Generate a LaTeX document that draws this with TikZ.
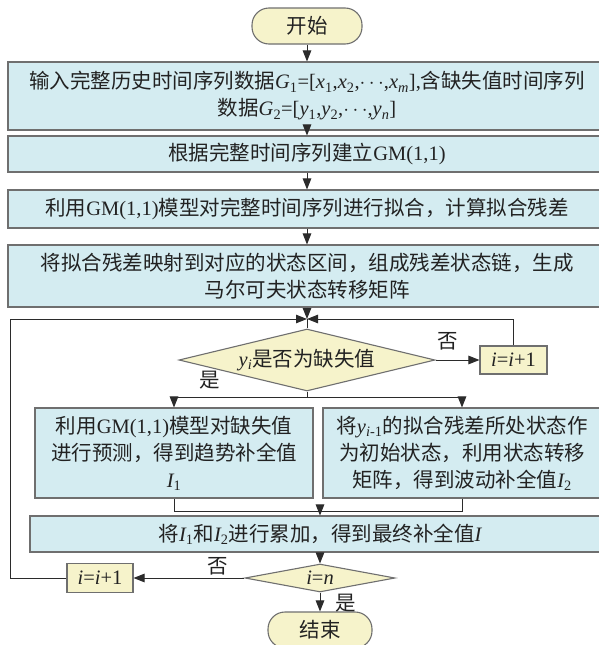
\documentclass[tikz,border=0pt]{standalone}
\usepackage{fontspec}
\setmainfont{Noto Sans CJK SC}
\newfontfamily\lat{Liberation Serif}
\usetikzlibrary{shapes.geometric,arrows.meta}
\definecolor{boxblue}{HTML}{D4ECF1}
\definecolor{boxyellow}{HTML}{F6F3CB}
\definecolor{bordergray}{HTML}{6F6F6F}
\definecolor{linegray}{HTML}{2B2B2B}
\definecolor{txtgray}{HTML}{222222}
\newcommand{\vi}[1]{{\lat\itshape #1}}
\newcommand{\sbs}[1]{\textsubscript{\lat #1}}
\newcommand{\la}[1]{{\lat #1}}
\begin{document}
\begin{tikzpicture}[x=1pt,y=-1pt,
  every node/.style={font=\fontsize{20.5}{27}\selectfont, text=txtgray},
  procbox/.style={draw=bordergray, fill=boxblue, line width=1.1pt, inner sep=0pt, align=center},
  termbox/.style={draw=bordergray, fill=boxyellow, rounded corners=17pt, line width=1.1pt, inner sep=0pt},
  decbox/.style={diamond, draw=bordergray, fill=boxyellow, line width=1.1pt, inner sep=0pt},
  incbox/.style={draw=bordergray, fill=boxyellow, line width=1.1pt, inner sep=0pt},
  conn/.style={draw=linegray, line width=1pt},
  arr/.style={conn, -{Triangle[length=11pt,width=8.5pt]}},
  lbl/.style={inner sep=0pt}
]
\useasboundingbox (0,0) rectangle (599,645);
\fill[white] (0,0) rectangle (599,645);

\node[termbox, minimum width=110pt, minimum height=36pt] (start) at (307,26) {开始};
\node[procbox, minimum width=598pt, minimum height=68pt] (b1) at (307,96)
 {输入完整历史时间序列数据\vi{G}\sbs{1}\la{=[}\vi{x}\sbs{1}\la{,}\vi{x}\sbs{2}\la{,}$\cdots$\la{,}\vi{x}\textsubscript{\vi{m}}\la{],}含缺失值时间序列\\
  数据\vi{G}\sbs{2}\la{=[}\vi{y}\sbs{1}\la{,}\vi{y}\sbs{2}\la{,}$\cdots$\la{,}\vi{y}\textsubscript{\vi{n}}\la{]}};
\node[procbox, minimum width=598pt, minimum height=36pt] (b2) at (307,154) {根据完整时间序列建立\la{GM(1,1)}};
\node[procbox, minimum width=598pt, minimum height=38pt] (b3) at (307,209) {利用\la{GM(1,1)}模型对完整时间序列进行拟合，计算拟合残差};
\node[procbox, minimum width=598pt, minimum height=62pt] (b4) at (307,276) {将拟合残差映射到对应的状态区间，组成残差状态链，生成\\马尔可夫状态转移矩阵};
\coordinate (J) at (307,319);
\node[decbox, aspect=4, minimum width=256pt, minimum height=62pt] (d1) at (307,360) {\vi{y}\textsubscript{\vi{i}}是否为缺失值};
\node[incbox, minimum width=67pt, minimum height=28pt] (i1) at (513.5,360) {\vi{i}\la{=}\vi{i}\la{+1}};
\node[procbox, minimum width=278pt, minimum height=90pt] (lb) at (174,453) {利用\la{GM(1,1)}模型对缺失值\\进行预测，得到趋势补全值\\\vi{I}\sbs{1}};
\node[procbox, minimum width=278pt, minimum height=90pt] (rb) at (462,453) {将\vi{y}\textsubscript{\vi{i}\la{-1}}的拟合残差所处状态作\\为初始状态，利用状态转移\\矩阵，得到波动补全值\vi{I}\sbs{2}};
\node[procbox, minimum width=580pt, minimum height=36pt] (b5) at (320,534) {将\vi{I}\sbs{1}和\vi{I}\sbs{2}进行累加，得到最终补全值\vi{I}};
\node[decbox, aspect=5, minimum width=150pt, minimum height=28pt] (d2) at (320,578) {\vi{i}\la{=}\vi{n}};
\node[incbox, minimum width=66pt, minimum height=29pt] (i2) at (100,578) {\vi{i}\la{=}\vi{i}\la{+1}};
\node[termbox, minimum width=104pt, minimum height=36pt] (end) at (320,630) {结束};

\coordinate (S) at (307,397);
\coordinate (M) at (320,511);
\coordinate (L) at (10,319);

\draw[arr] (start) -- (b1);
\draw[arr] (b1) -- (b2);
\draw[arr] (b2) -- (b3);
\draw[arr] (b3) -- (b4);
\draw[arr] (b4.south) -- (J);
\draw[conn] (J) -- (d1.north);
\draw[arr] (d1.east) -- (i1.west);
\node[lbl] at (448,341) {否};
\draw[arr] (i1.north) |- (J);
\draw[conn] (d1.south) -- (S);
\draw[arr] (S) -| (lb.north);
\draw[arr] (S) -| (rb.north);
\node[lbl] at (210,380) {是};
\draw[conn] (lb.south) |- (M);
\draw[conn] (rb.south) |- (M);
\draw[arr] (M) -- (b5.north);
\draw[arr] (b5) -- (d2);
\draw[arr] (d2.west) -- (i2.east);
\node[lbl] at (218,566) {否};
\draw[arr] (d2.south) -- (end.north);
\node[lbl] at (346,603) {是};
\draw[arr] (i2.west) -| (L) -- (J);
\end{tikzpicture}
\end{document}
